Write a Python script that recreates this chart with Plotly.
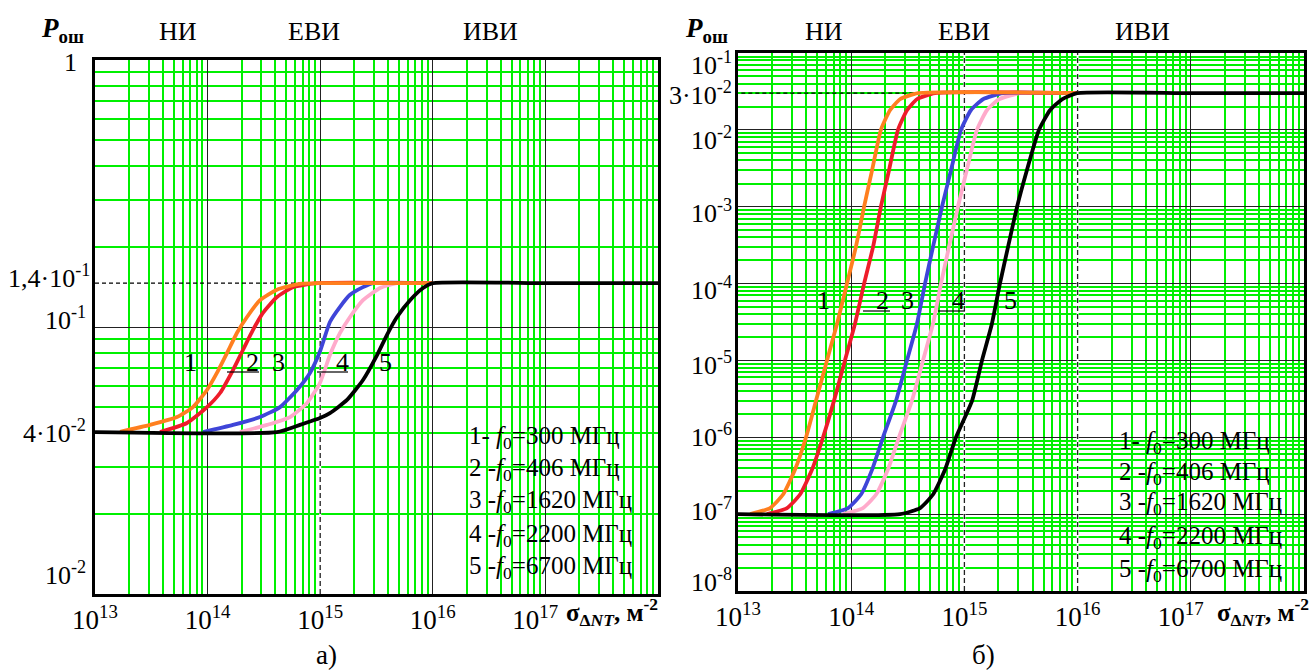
import plotly.graph_objects as go

W, H = 1312, 671


def px(x):
    return x / W


def py(y):
    return 1 - y / H


# ---------------- panel a) data (σ in m^-2, P_ош) ----------------
a_plateau = 0.146
a1_s = [1.67e13, 3.08e13, 5.35e13, 7.41e13, 9.88e13, 1.21e14, 1.49e14, 1.82e14, 2.24e14, 2.92e14, 4.13e14, 6.62e14, 9.95e14, 1.0e16]
a1_p = [0.0405, 0.0430, 0.0460, 0.0501, 0.0581, 0.0673, 0.0800, 0.0950, 0.109, 0.126, 0.138, 0.145, 0.146, 0.146]
a2_s = [3.78e13, 6.56e13, 9.88e13, 1.29e14, 1.68e14, 2.06e14, 2.53e14, 3.10e14, 4.13e14, 5.73e14, 9.38e14, 1.0e16]
a2_p = [0.0404, 0.0437, 0.0501, 0.0566, 0.0690, 0.0820, 0.0975, 0.113, 0.1295, 0.141, 0.146, 0.146]
a3_s = [9.10e13, 1.68e14, 2.92e14, 4.40e14, 6.22e14, 8.11e14, 9.95e14, 1.22e15, 1.50e15, 1.84e15, 2.40e15, 2.94e15, 1.0e16]
a3_p = [0.0404, 0.0430, 0.0460, 0.0501, 0.0581, 0.0673, 0.0810, 0.1044, 0.119, 0.132, 0.141, 0.146, 0.146]
a4_s = [1.94e14, 3.37e14, 5.40e14, 7.64e14, 9.95e14, 1.22e15, 1.50e15, 1.84e15, 2.40e15, 3.40e15, 4.81e15, 1.0e16]
a4_p = [0.0404, 0.0430, 0.0460, 0.0519, 0.0617, 0.0785, 0.0950, 0.109, 0.126, 0.140, 0.146, 0.146]
a5_s = [1.0e13, 4.13e14, 6.62e14, 9.95e14, 1.22e15, 1.73e15, 2.40e15, 3.19e15, 3.92e15, 4.81e15, 6.28e15, 8.19e15, 1.0e16, 1.0e17, 1.0e18]
a5_p = [0.0404, 0.0404, 0.0430, 0.0456, 0.0476, 0.0533, 0.0633, 0.0783, 0.0935, 0.109, 0.126, 0.140, 0.146, 0.146, 0.146]

# ---------------- panel б) data ----------------
b_plateau = 0.03
b1_s = [1.28e13, 1.92e13, 2.50e13, 3.19e13, 3.99e13, 4.89e13, 6.11e13, 7.50e13, 9.18e13, 1.10e14, 1.30e14, 1.53e14, 1.83e14, 2.20e14, 2.70e14, 3.89e14, 1.0e16]
b1_p = [1e-7, 1.2e-7, 1.8e-7, 3.8e-7, 1e-6, 3e-6, 1e-5, 3e-5, 1e-4, 3e-4, 1e-3, 3e-3, 1e-2, 1.8e-2, 2.5e-2, 3e-2, 3e-2]
b2_s = [1.80e13, 2.71e13, 3.53e13, 4.51e13, 5.64e13, 7.05e13, 8.81e13, 1.08e14, 1.30e14, 1.56e14, 1.83e14, 2.16e14, 2.59e14, 3.11e14, 3.81e14, 5.50e14, 1.0e16]
b2_p = [1e-7, 1.2e-7, 1.8e-7, 3.8e-7, 1e-6, 3e-6, 1e-5, 3e-5, 1e-4, 3e-4, 1e-3, 3e-3, 1e-2, 1.8e-2, 2.5e-2, 3e-2, 3e-2]
b3_s = [6.24e13, 9.38e13, 1.22e14, 1.53e14, 1.91e14, 2.49e14, 3.11e14, 3.81e14, 4.49e14, 5.28e14, 6.34e14, 7.62e14, 9.33e14, 1.14e15, 1.46e15, 2.19e15, 1.0e16]
b3_p = [1e-7, 1.2e-7, 1.8e-7, 3.8e-7, 1e-6, 3e-6, 1e-5, 3e-5, 1e-4, 3e-4, 1e-3, 3e-3, 1e-2, 1.8e-2, 2.5e-2, 3e-2, 3e-2]
b4_s = [8.47e13, 1.27e14, 1.66e14, 2.11e14, 2.64e14, 3.44e14, 4.31e14, 5.28e14, 6.21e14, 7.31e14, 8.77e14, 1.05e15, 1.29e15, 1.58e15, 2.02e15, 3.10e15, 1.0e16]
b4_p = [1e-7, 1.2e-7, 1.8e-7, 3.8e-7, 1e-6, 3e-6, 1e-5, 3e-5, 1e-4, 3e-4, 1e-3, 3e-3, 1e-2, 1.8e-2, 2.5e-2, 3e-2, 3e-2]
b5_s = [1.0e13, 2.70e14, 4.06e14, 5.28e14, 6.75e14, 8.43e14, 1.17e15, 1.43e15, 1.75e15, 2.06e15, 2.43e15, 2.92e15, 3.57e15, 4.56e15, 5.70e15, 7.28e15, 9.89e15, 1.0e17, 1.0e18]
b5_p = [1e-7, 1e-7, 1.2e-7, 1.8e-7, 3.8e-7, 1e-6, 3e-6, 1e-5, 3e-5, 1e-4, 3e-4, 1e-3, 3e-3, 1e-2, 1.8e-2, 2.5e-2, 3e-2, 3e-2, 3e-2]

# ---------------- labels / ticks ----------------
x_major = [1e13, 1e14, 1e15, 1e16, 1e17]
x_ticktext = ["10<sup>13</sup>", "10<sup>14</sup>", "10<sup>15</sup>", "10<sup>16</sup>",
              "10<sup>17</sup>&nbsp;&nbsp;&nbsp;"]
x_minor = [k * 10.0 ** n for n in range(13, 18) for k in range(2, 10)]
ya_major = [0.01, 0.1, 1]
ya_minor = [k * 10.0 ** n for n in (-2, -1) for k in range(2, 10)]
yb_major = [10.0 ** n for n in range(-8, 0)]
yb_minor = [k * 10.0 ** n for n in range(-8, -1) for k in range(2, 10)]
# decade lines drawn dashed (below the plateau in a), full height in б)
a_dashed_x = [1e15]
b_dashed_x = [1e15, 1e16]

legend_lines = ["1- <i>f</i><sub>0</sub>=300 МГц", "2 -<i>f</i><sub>0</sub>=406 МГц",
                "3 -<i>f</i><sub>0</sub>=1620 МГц", "4 -<i>f</i><sub>0</sub>=2200 МГц",
                "5 -<i>f</i><sub>0</sub>=6700 МГц"]
regions = ["НИ", "ЕВИ", "ИВИ"]
colors = ["#ff7f1f", "#ee1c2a", "#3f45d8", "#ffaacb", "#000000"]

FONT = "Liberation Serif"

fig = go.Figure()


def add_line(x, y, xa, ya, color, width, dash="solid"):
    fig.add_trace(go.Scatter(x=x, y=y, mode="lines", xaxis=xa, yaxis=ya,
                             line=dict(color=color, width=width, dash=dash),
                             showlegend=False, hoverinfo="skip"))


def add_curve(s, p, color, xa, ya):
    fig.add_trace(go.Scatter(x=s, y=p, mode="lines", xaxis=xa, yaxis=ya,
                             line=dict(color=color, width=3.8, shape="spline", smoothing=0.5),
                             showlegend=False, hoverinfo="skip"))


# dashed decade lines (white underlay hides the solid grid line)
for xv in a_dashed_x:
    add_line([xv, xv], [0.01, a_plateau], "x", "y", "white", 2)
    add_line([xv, xv], [0.01, a_plateau], "x", "y", "#222222", 1.3, "5px,3px")
for xv in b_dashed_x:
    add_line([xv, xv], [1e-8, 1e-1], "x2", "y2", "white", 2)
    add_line([xv, xv], [1e-8, 1e-1], "x2", "y2", "#222222", 1.3, "5px,3px")

# dashed plateau markers
add_line([1e13, 1e15], [a_plateau, a_plateau], "x", "y", "black", 1.2, "4px,3px")
add_line([1.07e13, b1_s[-2]], [b_plateau, b_plateau], "x2", "y2", "black", 1.2, "4px,3px")

a_curves = [(a4_s, a4_p, 3), (a3_s, a3_p, 2), (a2_s, a2_p, 1), (a1_s, a1_p, 0), (a5_s, a5_p, 4)]
b_curves = [(b4_s, b4_p, 3), (b3_s, b3_p, 2), (b2_s, b2_p, 1), (b1_s, b1_p, 0), (b5_s, b5_p, 4)]
for s, p, i in a_curves:
    add_curve(s, p, colors[i], "x", "y")
for s, p, i in b_curves:
    add_curve(s, p, colors[i], "x2", "y2")

grid_major = "#222222"
grid_minor = "#00f000"


def xaxis_cfg(left, right, anchor):
    return dict(type="log", range=[13, 18], domain=[px(left), px(right)], anchor=anchor,
                tickmode="array", tickvals=x_major, ticktext=x_ticktext, automargin=False,
                showgrid=True, gridcolor=grid_major, gridwidth=1.3,
                minor=dict(tickmode="array", tickvals=x_minor, showgrid=True, gridcolor=grid_minor,
                           gridwidth=1.5, ticks=""),
                showline=True, mirror=True, linecolor="black", linewidth=3, ticks="",
                tickfont=dict(family=FONT, size=27, color="black"), zeroline=False)


def yaxis_cfg(top, bottom, rng, major, minor, anchor):
    return dict(type="log", range=rng, domain=[py(bottom), py(top)], anchor=anchor,
                tickmode="array", tickvals=major, showticklabels=False, automargin=False,
                showgrid=True, gridcolor=grid_major, gridwidth=1.3,
                minor=dict(tickmode="array", tickvals=minor, showgrid=True, gridcolor=grid_minor,
                           gridwidth=1.5, ticks=""),
                showline=True, mirror=True, linecolor="black", linewidth=3, ticks="", zeroline=False)


fig.update_layout(
    width=W, height=H, margin=dict(l=0, r=0, t=0, b=0, autoexpand=False),
    paper_bgcolor="white", plot_bgcolor="white",
    font=dict(family=FONT, color="black"),
    xaxis=xaxis_cfg(95, 658, "y"),
    yaxis=yaxis_cfg(60, 594, [-2, 0], ya_major, ya_minor, "x"),
    xaxis2=xaxis_cfg(738, 1304, "y2"),
    yaxis2=yaxis_cfg(53, 591, [-8, -1], yb_major, yb_minor, "x2"),
)

ann = []


def text(x, y, t, size=26, xanchor="center", yanchor="middle"):
    ann.append(dict(x=px(x), y=py(y), xref="paper", yref="paper", text=t, showarrow=False,
                    xanchor=xanchor, yanchor=yanchor, font=dict(family=FONT, size=size, color="black")))


# y tick labels panel a
ya_labels = [("1", 62, 79), ("1,4·10<sup>-1</sup>", 277, 92), ("10<sup>-1</sup>", 318, 88),
             ("4·10<sup>-2</sup>", 431, 88), ("10<sup>-2</sup>", 573, 88)]
for t, y, x in ya_labels:
    text(x, y, t, 26, xanchor="right")
# y tick labels panel b
yb_labels = [("10<sup>-1</sup>", 64), ("3·10<sup>-2</sup>", 93), ("10<sup>-2</sup>", 138), ("10<sup>-3</sup>", 212),
             ("10<sup>-4</sup>", 288), ("10<sup>-5</sup>", 363), ("10<sup>-6</sup>", 436), ("10<sup>-7</sup>", 509),
             ("10<sup>-8</sup>", 580)]
for t, y in yb_labels:
    text(734, y, t, 26, xanchor="right")

# headers
for (x0, xs) in [(62, [178, 314, 490]), (707, [824, 964, 1142])]:
    text(x0, 30, "<b><i>P</i><sub>ош</sub></b>", 27)
    for r, x in zip(regions, xs):
        text(x, 31, r, 26)

# axis titles
text(660, 612, "<b>σ<sub>Δ<i>NT</i></sub>, м<sup>-2</sup></b>", 25, xanchor="right")
text(1311, 612, "<b>σ<sub>Δ<i>NT</i></sub>, м<sup>-2</sup></b>", 25, xanchor="right")

# panel captions
text(326, 655, "а)", 27)
text(983, 655, "б)", 27)

# legends
for i, t in enumerate(legend_lines):
    text(467, [437, 469, 501, 535, 567][i], t, 25, xanchor="left")
    text(1117, [442, 473, 503, 537, 570][i], t, 25, xanchor="left")

# curve numbers
for t, x in zip("12345", [190, 252, 278, 342, 385]):
    text(x, 362, t, 26)
for t, x in zip("12345", [823, 882, 907, 958, 1010]):
    text(x, 300, t, 26)

fig.update_layout(annotations=ann)

shapes = []
for (x0, x1, y) in [(227, 259, 372), (317, 348, 372), (863, 890, 311), (938, 965, 311)]:
    shapes.append(dict(type="line", xref="paper", yref="paper", x0=px(x0), x1=px(x1), y0=py(y), y1=py(y),
                       line=dict(color="black", width=1.2)))
fig.update_layout(shapes=shapes)

fig.write_html("out.html")
